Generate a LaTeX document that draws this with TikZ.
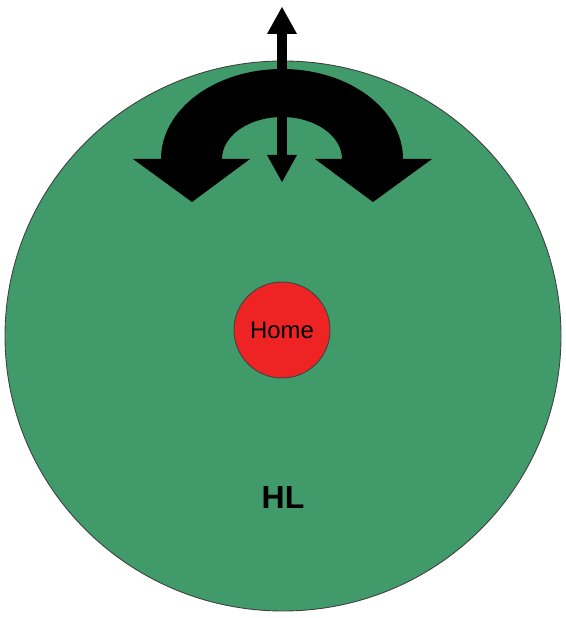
\documentclass[tikz,border=0pt]{standalone}
\usepackage{fontspec}
\setmainfont{Liberation Sans}
\usetikzlibrary{arrows.meta}
\definecolor{hlgreen}{RGB}{64,154,106}
\definecolor{homered}{RGB}{238,36,36}
\begin{document}
\begin{tikzpicture}[x=0.02cm, y=0.02cm,
	zone/.style={draw=black!75, line width=0.5pt},
	bigarrow/.style={line width=0.2cm, {Triangle[length=0.54cm, width=0.6cm, line width=0pt]}-{Triangle[length=0.54cm, width=0.6cm, line width=0pt]}}]
			\useasboundingbox (0, 0) rectangle (565, 618);
			\filldraw[zone, fill=hlgreen](283, 282) ellipse[x radius=278, y radius=275];
			\fill[black](192, 416) -- (250, 459) -- (222, 459) arc[start angle=180, end angle=0, x radius=60, y radius=42]
				-- (315, 459) -- (373, 416) -- (432, 459) -- (403, 459) arc[start angle=0, end angle=180, x radius=121, y radius=90]
				-- (133, 459) -- cycle;
			\coordinate (up) at (282, 611);
			\coordinate (down) at (282, 436);
			\draw[bigarrow](down) -- (up);
			\node[zone, circle, fill=homered, minimum size=1.92cm, inner sep=0pt, font=\fontsize{13.6}{16}\selectfont] (home) at (282, 288) {Home};
			\node[font=\fontsize{18.2}{22}\selectfont\bfseries] (hl) at (283, 120) {HL};
		\end{tikzpicture}
\end{document}
